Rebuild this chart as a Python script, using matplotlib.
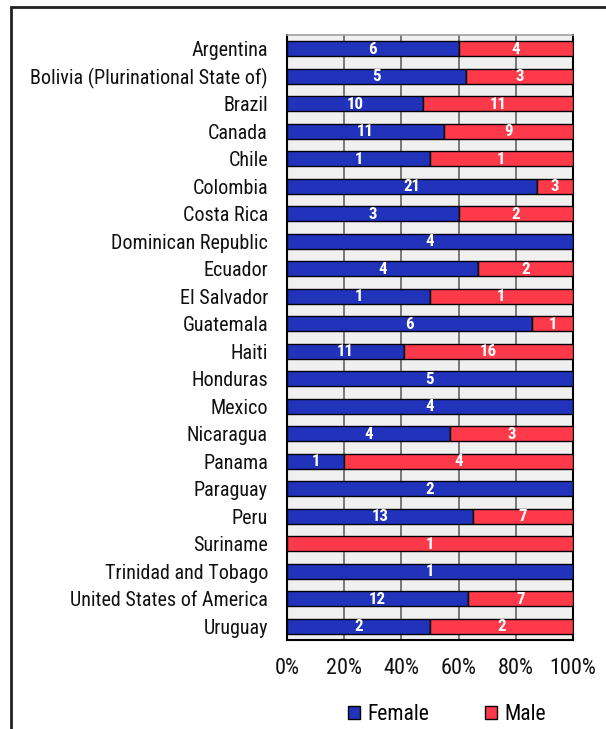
import numpy as np
import matplotlib.pyplot as plt
from matplotlib.patches import Patch, Rectangle
from matplotlib.ticker import PercentFormatter

countries = [
    "Argentina", "Bolivia (Plurinational State of)", "Brazil", "Canada", "Chile",
    "Colombia", "Costa Rica", "Dominican Republic", "Ecuador", "El Salvador",
    "Guatemala", "Haiti", "Honduras", "Mexico", "Nicaragua", "Panama",
    "Paraguay", "Peru", "Suriname", "Trinidad and Tobago",
    "United States of America", "Uruguay",
]
female = [6, 5, 10, 11, 1, 21, 3, 4, 4, 1, 6, 11, 5, 4, 4, 1, 2, 13, 0, 1, 12, 2]
male = [4, 3, 11, 9, 1, 3, 2, 0, 2, 1, 1, 16, 0, 0, 3, 4, 0, 7, 1, 0, 7, 2]
xticks = [0, 20, 40, 60, 80, 100]

plt.rcParams['font.family'] = ['Roboto Condensed', 'Liberation Sans', 'DejaVu Sans']

blue = '#2233bb'
red = '#fe3a4a'

female = np.array(female, dtype=float)
male = np.array(male, dtype=float)
total = female + male
f_pct = female / total * 100
m_pct = male / total * 100

fig = plt.figure(figsize=(6.06, 7.29), dpi=100)
ax = fig.add_axes([287 / 606, 89 / 729, 286 / 606, 605 / 729])
ax.set_facecolor('#f0f0f0')

y = np.arange(len(countries))
h = 0.54
ax.barh(y, f_pct, height=h, color=blue, edgecolor='black', linewidth=1.0, zorder=3)
ax.barh(y, m_pct, left=f_pct, height=h, color=red, edgecolor='black', linewidth=1.0, zorder=3)

# counts written in the middle of each segment
for i in range(len(countries)):
    if female[i] > 0:
        ax.text(f_pct[i] / 2, i + 0.02, f"{int(female[i])}", ha='center', va='center',
                color='white', fontsize=12.2, fontweight='bold', zorder=4)
    if male[i] > 0:
        ax.text(f_pct[i] + m_pct[i] / 2, i + 0.02, f"{int(male[i])}", ha='center', va='center',
                color='white', fontsize=12.2, fontweight='bold', zorder=4)

ax.set_ylim(len(countries) - 0.5, -0.5)
ax.set_xlim(0, 100)
ax.set_yticks(y)
ax.set_yticklabels(countries, fontsize=14.5, color='#111111')
ax.set_xticks(xticks)
ax.xaxis.set_major_formatter(PercentFormatter(decimals=0))
ax.tick_params(axis='x', labelsize=16, length=0, pad=13, labelcolor='#111111')
ax.tick_params(axis='y', length=0, pad=13.7)
ax.grid(axis='x', color='#6e6e6e', linewidth=1.3, zorder=1)
ax.set_axisbelow(True)

for side in ['left', 'right', 'bottom']:
    ax.spines[side].set_color('black')
    ax.spines[side].set_linewidth(1.5)
ax.spines['top'].set_color('#a0a0a0')
ax.spines['top'].set_linewidth(1.2)

handles = [Patch(facecolor=blue, edgecolor='black', label='Female'),
           Patch(facecolor=red, edgecolor='black', label='Male')]
fig.legend(handles=handles, loc='center', bbox_to_anchor=(0.738, 1 - 715 / 729), ncol=2,
           frameon=False, fontsize=15.5, handlelength=0.55, handleheight=0.55,
           handletextpad=0.35, columnspacing=2.6)

# outer chart border
fig.add_artist(Rectangle((11 / 606, -0.1), 1.0, (729 - 7) / 729 + 0.1,
                         transform=fig.transFigure, fill=False, edgecolor='#222222',
                         linewidth=2))

fig.savefig('out.png', dpi=100)
